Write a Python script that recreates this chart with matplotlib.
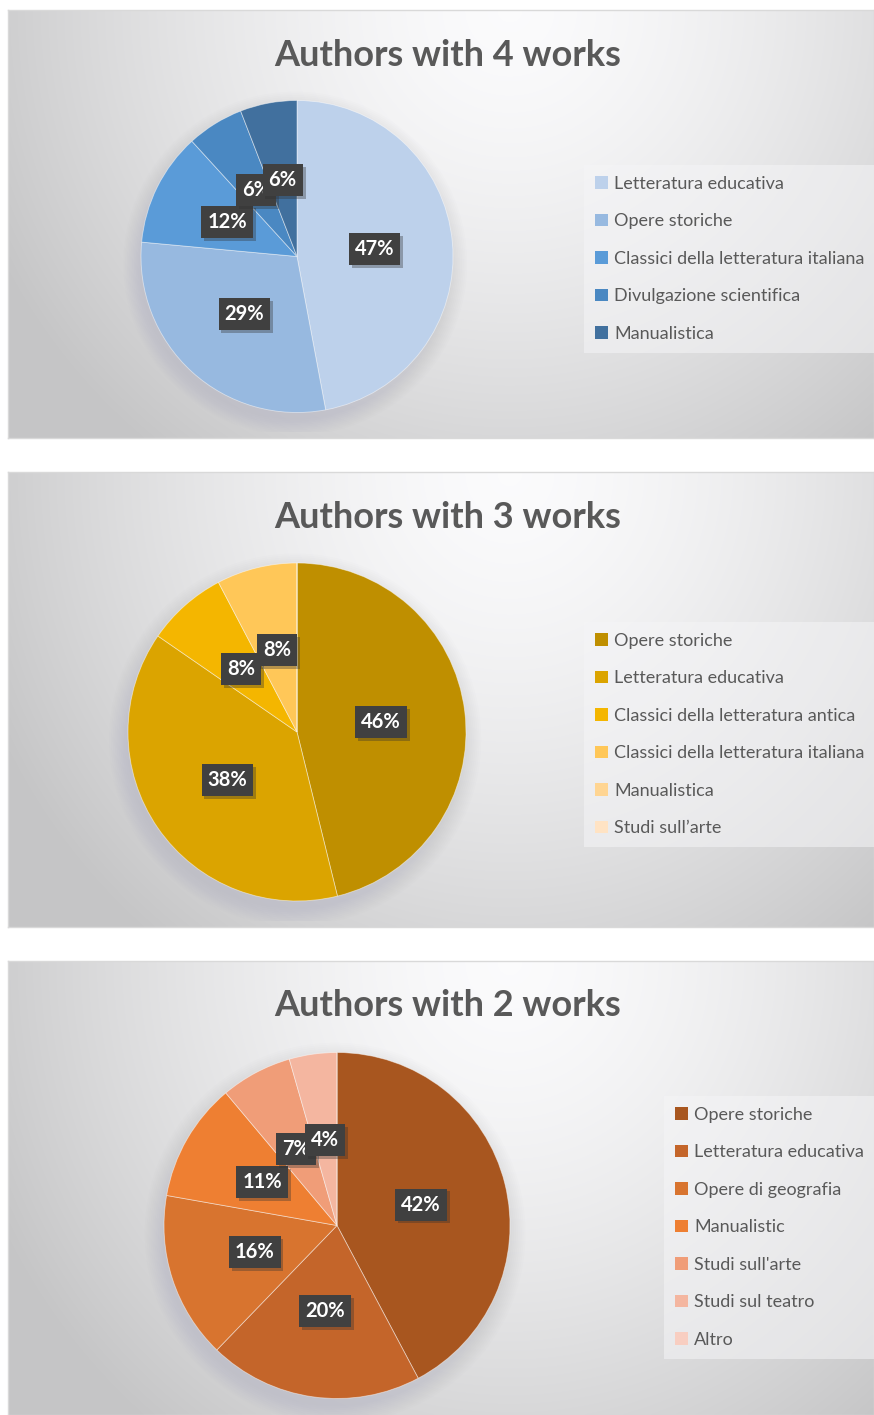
import numpy as np
import matplotlib
matplotlib.use('Agg')
import matplotlib.pyplot as plt
import matplotlib.patheffects as pe
from matplotlib.patches import Patch

plt.rcParams['font.family'] = ['Lato', 'DejaVu Sans']

# data (number of authors per genre)
titles = ['Authors with 4 works', 'Authors with 3 works', 'Authors with 2 works']

cats_4 = ['Letteratura educativa', 'Opere storiche', 'Classici della letteratura italiana',
          'Divulgazione scientifica', 'Manualistica']
vals_4 = [8, 5, 2, 1, 1]
cols_4 = ['#BDD1EB', '#97B9E0', '#5A9BD8', '#4A88C2', '#41709E']

cats_3 = ['Opere storiche', 'Letteratura educativa', 'Classici della letteratura antica',
          'Classici della letteratura italiana', 'Manualistica', 'Studi sull\u2019arte']
vals_3 = [6, 5, 1, 1, 0, 0]
cols_3 = ['#BF8F00', '#DBA400', '#F4B600', '#FFC758', '#FFD592', '#FFE3C4']

cats_2 = ['Opere storiche', 'Letteratura educativa', 'Opere di geografia', 'Manualistic',
          "Studi sull'arte", 'Studi sul teatro', 'Altro']
vals_2 = [19, 9, 7, 5, 3, 2, 0]
cols_2 = ['#A8561F', '#C4652A', '#D8742F', '#EE7F32', '#F09D78', '#F4B6A0', '#F8CEC1']

W, H = 874, 1415
fig = plt.figure(figsize=(W / 100, H / 100), dpi=100)
fig.patch.set_facecolor('white')

def fx(x):
    return x / W

def fy(y):
    return 1 - y / H

# panel rects in pixels: x0, y0, x1, y1
panels = [(8, 10, 874, 438), (8, 472, 874, 927), (8, 961, 874, 1415)]
# pie centre and radius (pixels)
pies = [(297, 256.5, 156), (297, 732, 169), (337, 1225.5, 173)]
# legend top-left (pixels)
legpos = [(584, 165), (584, 622), (664, 1096)]
title_y = [55, 518, 1006]

series = [(cats_4, vals_4, cols_4), (cats_3, vals_3, cols_3), (cats_2, vals_2, cols_2)]

for i in range(3):
    x0, y0, x1, y1 = panels[i]
    bg = fig.add_axes([fx(x0), fy(y1), fx(x1 - x0), (y1 - y0) / H])
    gx, gy = np.meshgrid(np.linspace(0, 1, 200), np.linspace(0, 1, 200))
    d = np.sqrt(((gx - 0.58) / 0.55) ** 2 + ((gy - 0.0) / 1.1) ** 2)
    g = 0.985 - 0.16 * np.clip(d, 0, 1.2) ** 1.5
    bg.imshow(np.dstack([g, g, g * 1.005]).clip(0, 1), aspect='auto',
              extent=[0, 1, 1, 0], interpolation='bilinear')
    bg.set_xlim(0, 1)
    bg.set_ylim(1, 0)
    bg.set_xticks([])
    bg.set_yticks([])
    for s in bg.spines.values():
        s.set_color('#D9D9D9')
        s.set_linewidth(1)

    cats, vals, cols = series[i]
    cx, cy, r = pies[i]
    # soft shadow behind the pie
    sh = fig.add_axes([fx(cx - r - 20), fy(cy + r + 20), fx(2 * r + 40), (2 * r + 40) / H])
    sh.set_xlim(-1, 1)
    sh.set_ylim(-1, 1)
    sh.axis('off')
    rr = r / (r + 20)
    for k in range(10):
        c = plt.Circle((-0.01, -0.04), rr + 0.01 * k, color='#9090A0', alpha=0.02, lw=0)
        sh.add_patch(c)

    ax = fig.add_axes([fx(cx - r), fy(cy + r), fx(2 * r), 2 * r / H])

    def fmt(p):
        return '' if p < 0.5 else '%d%%' % round(p)

    wedges, texts, autotexts = ax.pie(
        vals, colors=cols, startangle=90, counterclock=False, radius=1,
        autopct=fmt, pctdistance=0.5,
        wedgeprops=dict(edgecolor=(1, 1, 1, 0.5), linewidth=0.6),
        textprops=dict(color='white', fontsize=14.5, fontweight='bold'))
    for t in autotexts:
        t.set_bbox(dict(boxstyle='square,pad=0.3', fc='#404040', ec='none'))
        t.get_bbox_patch().set_path_effects(
            [pe.SimplePatchShadow(offset=(2, -2), shadow_rgbFace='#303030', alpha=0.35),
             pe.Normal()])
    ax.set_xlim(-1, 1)
    ax.set_ylim(-1, 1)
    ax.axis('off')

    fig.text(fx(448), fy(title_y[i]), titles[i], ha='center', va='center',
             fontsize=26, fontweight='bold', color='#595959')

    handles = [Patch(facecolor=c, edgecolor='none') for c in cols]
    lx, ly = legpos[i]
    leg = fig.legend(handles, cats, loc='upper left',
                     bbox_to_anchor=(fx(lx), fy(ly), fx(W - lx), 0), mode='expand',
                     frameon=True, fancybox=False, framealpha=0.55, facecolor='#F5F5F7',
                     edgecolor='none', fontsize=13, labelcolor='#595959',
                     handlelength=0.72, handleheight=0.72, handletextpad=0.35,
                     labelspacing=1.19, borderpad=0.6, borderaxespad=0)

fig.savefig('out.png', dpi=100)
